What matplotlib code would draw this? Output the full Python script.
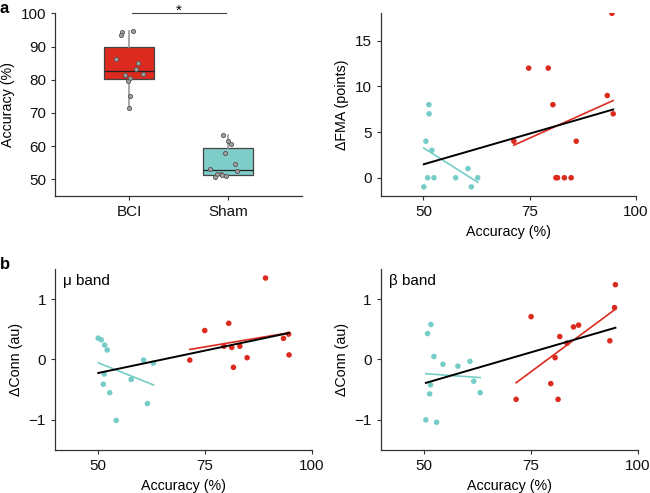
import numpy as np
import matplotlib
matplotlib.use("Agg")
import matplotlib.pyplot as plt

plt.rcParams['font.family'] = ['Liberation Sans', 'DejaVu Sans']
plt.rcParams['font.size'] = 10.3

RED = '#dc2a1e'
TEAL = '#76cdc7'
BOX_TEAL = '#7ecdc8'
SPINE = '#333333'
TICK_FS = 11

# ---- panel a left: accuracy box plot ----
groups = ['BCI', 'Sham']
bci_acc = [94.5, 93.5, 94.7, 86.1, 85.0, 83.3, 81.8, 81.4, 80.6, 79.7, 75.1, 71.6]
bci_jitter = [-0.068, -0.08, 0.037, -0.134, 0.088, 0.068, 0.144, -0.04, 0.01, -0.007, 0.007, 0.0]
sham_acc = [63.3, 61.6, 60.8, 58.0, 54.5, 52.5, 53.0, 51.5, 50.6, 51.6, 51.3, 51.0]
sham_jitter = [-0.047, 0.003, 0.027, -0.03, 0.074, 0.088, -0.18, -0.114, -0.134, -0.074, -0.057, -0.023]
acc_yticks = [50, 60, 70, 80, 90, 100]

# ---- panel a right: dFMA vs accuracy ----
fma_sham_x = [51.3, 51.35, 50.6, 52.0, 51.0, 52.5, 50.1, 57.6, 60.5, 61.3, 62.8]
fma_sham_y = [8, 7, 4, 3, 0, 0, -1, 0, 1, -1, 0]
fma_bci_x = [71.3, 74.8, 79.4, 80.5, 81.2, 81.6, 83.2, 84.8, 86.0, 93.3, 94.4, 94.7]
fma_bci_y = [4, 12, 12, 8, 0, 0, 0, 0, 4, 9, 18, 7]
fma_yticks = [0, 5, 10, 15]

# ---- panel b left: mu band ----
mu_sham_x = [50.1, 50.8, 51.6, 52.2, 51.5, 51.3, 52.8, 54.3, 57.8, 60.7, 61.6, 63.0]
mu_sham_y = [0.354, 0.327, 0.24, 0.158, -0.24, -0.41, -0.55, -1.01, -0.33, -0.01, -0.73, -0.06]
mu_bci_x = [71.5, 75.0, 79.5, 80.6, 81.3, 81.7, 83.2, 84.9, 89.2, 93.4, 94.6, 94.7]
mu_bci_y = [-0.01, 0.48, 0.22, 0.60, 0.20, -0.13, 0.22, 0.03, 1.35, 0.35, 0.42, 0.076]

# ---- panel b right: beta band ----
beta_sham_x = [51.7, 50.9, 52.4, 54.5, 58.0, 60.8, 51.6, 61.7, 51.4, 63.2, 50.5, 53.0]
beta_sham_y = [0.58, 0.43, 0.05, -0.08, -0.11, -0.03, -0.42, -0.36, -0.57, -0.55, -1.0, -1.04]
beta_bci_x = [71.6, 75.1, 79.7, 80.7, 81.4, 81.8, 83.5, 85.0, 86.2, 93.5, 94.6, 94.8]
beta_bci_y = [-0.66, 0.71, -0.40, 0.03, -0.66, 0.38, 0.27, 0.54, 0.57, 0.31, 0.86, 1.24]

acc_xticks = [50, 75, 100]
conn_yticks = [-1, 0, 1]

fig = plt.figure(figsize=(6.5, 4.93), dpi=100)


def style(ax):
    for s in ['top', 'right']:
        ax.spines[s].set_visible(False)
    for s in ['left', 'bottom']:
        ax.spines[s].set_color(SPINE)
        ax.spines[s].set_linewidth(0.9)
    ax.tick_params(direction='out', length=3, width=0.8, color=SPINE, labelcolor='#111111',
                   labelsize=TICK_FS)


def box_stats(vals, label):
    v = np.asarray(vals)
    q1, med, q3 = np.percentile(v, [25, 50, 75], method='hazen')
    return dict(med=med, q1=q1, q3=q3, whislo=v.min(), whishi=v.max(), fliers=[], label=label)


# a left
ax1 = fig.add_axes([0.0846, 0.6024, 0.38, 0.3706])
style(ax1)
stats = [box_stats(bci_acc, groups[0]), box_stats(sham_acc, groups[1])]
bp = ax1.bxp(stats, positions=[1, 2], widths=0.5, patch_artist=True, showcaps=False,
             boxprops=dict(edgecolor='#444444', linewidth=0.9),
             medianprops=dict(color='#222222', linewidth=0.9),
             whiskerprops=dict(color='#9a9a9a', linewidth=1.2))
bp['boxes'][0].set_facecolor(RED)
bp['boxes'][1].set_facecolor(BOX_TEAL)
for pos, vals, jit in [(1, bci_acc, bci_jitter), (2, sham_acc, sham_jitter)]:
    ax1.scatter(np.array(jit) + pos, vals, s=9, facecolor='#a0a0a0', edgecolor='#555555',
                linewidth=0.6, zorder=5)
ax1.set_xlim(0.25, 2.75)
ax1.set_ylim(45, 100)
ax1.set_yticks(acc_yticks)
ax1.set_xticks([1, 2])
ax1.set_xticklabels(groups)
ax1.set_ylabel('Accuracy (%)')
ax1.plot([1.03, 1.98], [100, 100], color='#444444', lw=0.8, clip_on=False)
ax1.text(1.5, 98.6, '*', ha='center', va='bottom', fontsize=11, clip_on=False)


def scatter_panel(ax, sx, sy, bx, by, ylim, yticks, ylabel):
    style(ax)
    ax.scatter(sx, sy, s=16, color=TEAL, edgecolor='none', zorder=3)
    ax.scatter(bx, by, s=16, color=RED, edgecolor='none', zorder=3)
    for xs, ys, c, lw in [(sx, sy, TEAL, 1.2), (bx, by, RED, 1.2)]:
        p = np.polyfit(xs, ys, 1)
        xr = np.array([min(xs), max(xs)])
        ax.plot(xr, np.polyval(p, xr), color=c, lw=lw, zorder=4)
    ax_all = np.concatenate([sx, bx])
    ay_all = np.concatenate([sy, by])
    p = np.polyfit(ax_all, ay_all, 1)
    xr = np.array([ax_all.min(), ax_all.max()])
    ax.plot(xr, np.polyval(p, xr), color='black', lw=1.4, zorder=4)
    ax.set_xlim(40, 100)
    ax.set_ylim(*ylim)
    ax.set_xticks(acc_xticks)
    ax.set_yticks(yticks)
    ax.set_xlabel('Accuracy (%)')
    ax.set_ylabel(ylabel)


ax2 = fig.add_axes([0.586, 0.6024, 0.392, 0.3706])
scatter_panel(ax2, fma_sham_x, fma_sham_y, fma_bci_x, fma_bci_y, (-2, 18), fma_yticks, 'ΔFMA (points)')

ax3 = fig.add_axes([0.0846, 0.0872, 0.395, 0.3672])
scatter_panel(ax3, mu_sham_x, mu_sham_y, mu_bci_x, mu_bci_y, (-1.5, 1.5), conn_yticks, 'ΔConn (au)')
ax3.set_yticklabels(['\u22121', '0', '1'])
ax3.text(0.03, 0.97, 'μ band', transform=ax3.transAxes, ha='left', va='top', fontsize=11)

ax4 = fig.add_axes([0.586, 0.0872, 0.395, 0.3672])
scatter_panel(ax4, beta_sham_x, beta_sham_y, beta_bci_x, beta_bci_y, (-1.5, 1.5), conn_yticks, 'ΔConn (au)')
ax4.set_yticklabels(['\u22121', '0', '1'])
ax4.text(0.03, 0.97, 'β band', transform=ax4.transAxes, ha='left', va='top', fontsize=11)

fig.text(0.0, 0.998, 'a', fontsize=12, fontweight='bold', ha='left', va='top')
fig.text(0.0, 0.478, 'b', fontsize=12, fontweight='bold', ha='left', va='top')

fig.savefig('out.png', dpi=100)
